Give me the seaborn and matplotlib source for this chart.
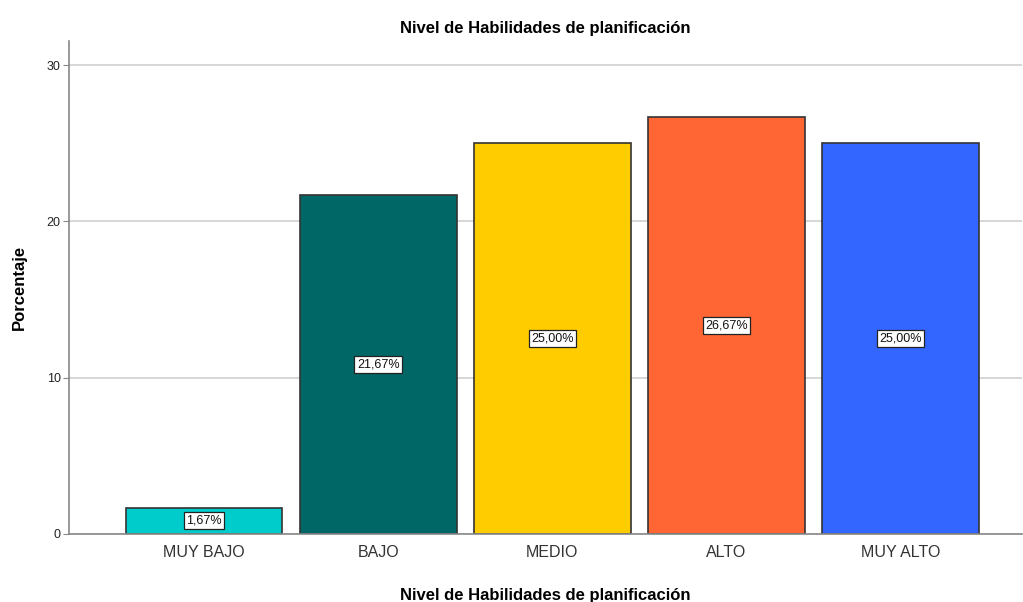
import matplotlib
matplotlib.use("Agg")
import matplotlib.pyplot as plt
import pandas as pd
import seaborn as sns

# data
categorias = ['MUY BAJO', 'BAJO', 'MEDIO', 'ALTO', 'MUY ALTO']
porcentajes = [1.67, 21.67, 25.00, 26.67, 25.00]
etiquetas = ['1,67%', '21,67%', '25,00%', '26,67%', '25,00%']
colores = ['#00CCCC', '#006666', '#FFCC00', '#FF6633', '#3366FF']
yticks = [0, 10, 20, 30]

df = pd.DataFrame({'Nivel': categorias, 'Porcentaje': porcentajes})

sns.set_style('white')
plt.rcParams['font.family'] = ['Liberation Sans', 'DejaVu Sans']

fig = plt.figure(figsize=(10.23, 6.02), dpi=100)
ax = fig.add_axes([0.0674, 0.113, 0.932, 0.819])

sns.barplot(data=df, x='Nivel', y='Porcentaje', hue='Nivel', palette=colores,
            width=0.9, edgecolor='#333333', linewidth=1.2, legend=False,
            saturation=1, ax=ax)

# value labels in white boxes at mid-height
for i, (v, t) in enumerate(zip(porcentajes, etiquetas)):
    ax.text(i, v / 2, t, ha='center', va='center', fontsize=9, color='#111111',
            bbox=dict(boxstyle='square,pad=0.2', facecolor='white',
                      edgecolor='#222222', linewidth=0.9))

ax.set_xlim(-0.776, 4.70)
ax.set_ylim(0, 31.54)
ax.set_yticks(yticks)
ax.yaxis.grid(True, color='#d0d0d0', linewidth=1.2)
ax.set_axisbelow(True)

for s in ['top', 'right']:
    ax.spines[s].set_visible(False)
ax.spines['left'].set_color('#888888')
ax.spines['bottom'].set_color('#888888')
ax.spines['left'].set_linewidth(1.2)
ax.spines['bottom'].set_linewidth(1.2)

ax.tick_params(axis='x', length=0, labelsize=11.5, labelcolor='#333333', pad=8)
ax.tick_params(axis='y', length=4, color='#888888', labelsize=9, labelcolor='#222222',
               left=True, pad=2)

ax.set_title('Nivel de Habilidades de planificación', fontsize=12, fontweight='bold',
             color='black', pad=6)
ax.set_xlabel('Nivel de Habilidades de planificación', fontsize=12, fontweight='bold',
              color='black', labelpad=20)
ax.set_ylabel('Porcentaje', fontsize=12, fontweight='bold', color='black', labelpad=14)

fig.savefig('out.png', dpi=100)
